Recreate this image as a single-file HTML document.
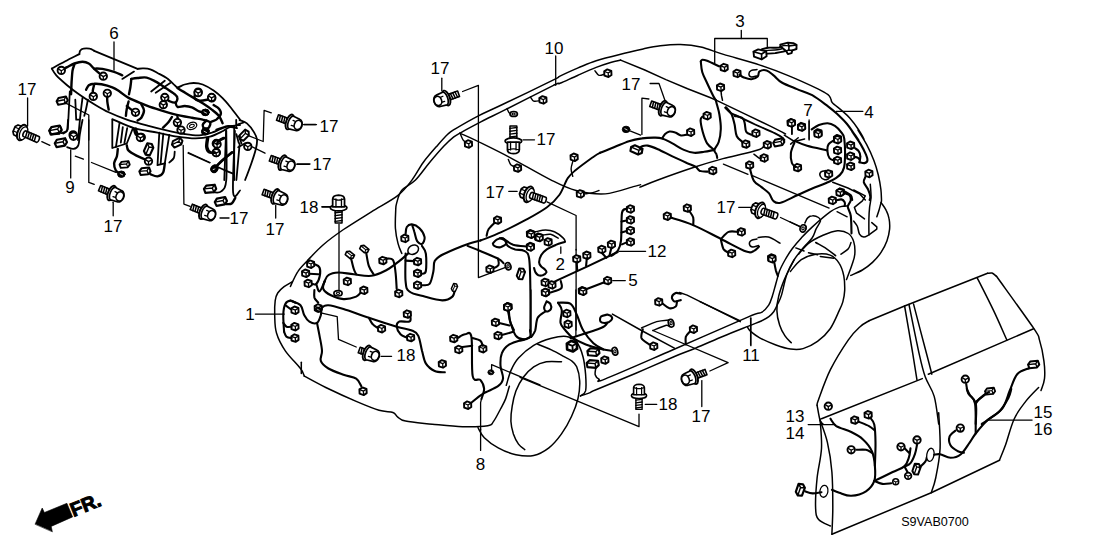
<!DOCTYPE html>
<html lang="en"><head><meta charset="utf-8"><title>Wire Harness Diagram</title>
<style>
html,body{margin:0;padding:0;background:#fff}
body{width:1108px;height:553px;overflow:hidden}
svg{display:block;font-family:"Liberation Sans",sans-serif}
</style></head><body>
<svg width="1108" height="553" viewBox="0 0 1108 553" fill="none" stroke="#000" stroke-width="1.3" stroke-linecap="round" stroke-linejoin="round">
<rect width="1108" height="553" fill="#fff" stroke="none"/>

<defs>
<g id="cn"><path d="M-3.6 -1.9L-0.5 -3.8L3.5 -2.4L3.7 1.8L0.7 3.8L-3.4 2.4Z" fill="#fff" stroke-width="1.9"/><path d="M-3.2 -1.7L0.4 -0.2L3.3 -2.1M0.4 -0.2L0.6 3.5" stroke-width="1.3"/></g>
<g id="rc"><circle r="3.7" fill="#fff" stroke-width="1.9"/><path d="M-2.6 -1.3L0 0.4L2.8 -1.1M0 0.4L0 3.2" stroke-width="1.3"/></g>
<g id="dc"><ellipse rx="3.8" ry="3.2" fill="#000" stroke-width="1"/><path d="M-1.2 -0.6L1.2 0.6" stroke="#fff" stroke-width="0.8"/></g>
<g id="pg"><path d="M-4.8 -1.6L-2 -3.5L4.8 -1.8L4.8 1.9L2 3.7L-4.8 1.9Z" fill="#fff" stroke-width="1.8"/><path d="M-4.6 -1.5L2 0.1L4.6 -1.7M2 0.1L2 3.5" stroke-width="1.2"/></g>
<g id="bt">
<path d="M-13.4 -2.9L-2 -2.9L-2 2.9L-13.4 2.9Z" fill="#fff" stroke-width="1.6"/>
<path d="M-11.4 -2.9L-10.6 2.9M-9 -2.9L-8.2 2.9M-6.6 -2.9L-5.8 2.9M-4.2 -2.9L-3.4 2.9" stroke-width="1.5"/>
<ellipse cx="-0.4" cy="0" rx="3.5" ry="7.8" fill="#fff" stroke-width="1.9"/>
<path d="M1.2 -6.7L8 -6A4.4 6 0 0 1 8 6L1.2 6.7A3 6.7 0 0 1 1.2 -6.7Z" fill="#fff" stroke-width="1.7"/>
<path d="M2.2 -2.6L5.6 -2.4M2.2 2.8L5.6 2.6" stroke-width="1.3"/>
<ellipse cx="8.4" cy="0" rx="3.7" ry="4.7" fill="#fff" stroke-width="1.6"/>
</g>
<g id="bt3">
<path d="M-8.6 -2.9L-2 -2.9L-2 2.9L-8.6 2.9Z" fill="#fff" stroke-width="1.6"/>
<path d="M-6.6 -2.9L-5.8 2.9M-4.2 -2.9L-3.4 2.9" stroke-width="1.5"/>
<ellipse cx="-0.4" cy="0" rx="3.5" ry="7.8" fill="#fff" stroke-width="1.9"/>
<path d="M1.2 -6.7L8 -6A4.4 6 0 0 1 8 6L1.2 6.7A3 6.7 0 0 1 1.2 -6.7Z" fill="#fff" stroke-width="1.7"/>
<path d="M2.2 -2.6L5.6 -2.4M2.2 2.8L5.6 2.6" stroke-width="1.3"/>
<ellipse cx="8.4" cy="0" rx="3.7" ry="4.7" fill="#fff" stroke-width="1.6"/>
</g>
<g id="bt2">
<path d="M1 -5.8L7.8 -5.4L9.8 -2.7L9.8 2.7L7.8 5.4L1 5.8Z" fill="#fff" stroke-width="1.7"/>
<path d="M2 -2L9.4 -2M2 2.2L9.4 2.2" stroke-width="1.2"/>
<ellipse cx="1" cy="0" rx="4.4" ry="8.2" fill="#fff" stroke-width="2"/>
<ellipse cx="-0.6" cy="0" rx="3.6" ry="6.8" fill="#fff" stroke-width="1.3"/>
<path d="M-16 -3.1L-2 -3.1A1.6 3.1 0 0 1 -2 3.1L-16 3.1A1.4 3.1 0 0 1 -16 -3.1Z" fill="#fff" stroke-width="1.6"/>
<path d="M-13.6 -3.1L-12.8 3.1M-11.2 -3.1L-10.4 3.1M-8.8 -3.1L-8 3.1M-6.4 -3.1L-5.6 3.1M-4 -3.1L-3.2 3.1" stroke-width="1.5"/>
</g>
<g id="b18">
<path d="M-3.1 3L-3.1 15.2L3.1 15.2L3.1 3Z" fill="#fff" stroke-width="1.4"/>
<path d="M-3.1 6L3.1 5.2M-3.1 8.6L3.1 7.8M-3.1 11.2L3.1 10.4M-3.1 13.8L3.1 13" stroke-width="1.3"/>
<ellipse cx="0" cy="1.5" rx="7.6" ry="2.8" fill="#fff" stroke-width="1.6"/>
<path d="M-5.4 0.6L-5.4 -6.6Q-5.2 -9.8 0 -10Q5.2 -9.8 5.4 -6.6L5.4 0.6Z" fill="#fff" stroke-width="1.6"/>
<path d="M-2.4 0.5L-2.4 -6.6M2.6 0.5L2.6 -6.6M-5.2 -6.6Q0 -4.6 5.2 -6.6" stroke-width="1.2"/>
</g>
</defs>
<text x="114" y="39.1" font-size="17" text-anchor="middle" fill="#000" stroke="none">6</text>
<path d="M114 42L114 70"/>
<text x="27" y="95.1" font-size="17" text-anchor="middle" fill="#000" stroke="none">17</text>
<text x="329" y="131.6" font-size="17" text-anchor="middle" fill="#000" stroke="none">17</text>
<path d="M303.5 124.6L316.5 124.6"/>
<text x="322" y="170.1" font-size="17" text-anchor="middle" fill="#000" stroke="none">17</text>
<path d="M297 164L310 164"/>
<text x="70" y="193.1" font-size="17" text-anchor="middle" fill="#000" stroke="none">9</text>
<text x="113" y="232.1" font-size="17" text-anchor="middle" fill="#000" stroke="none">17</text>
<text x="239" y="224.1" font-size="17" text-anchor="middle" fill="#000" stroke="none">17</text>
<path d="M220 218L229 218"/>
<text x="275" y="235.1" font-size="17" text-anchor="middle" fill="#000" stroke="none">17</text>
<text x="309" y="213.1" font-size="17" text-anchor="middle" fill="#000" stroke="none">18</text>
<path d="M322 207L330 207"/>
<text x="440" y="74.1" font-size="17" text-anchor="middle" fill="#000" stroke="none">17</text>
<text x="554" y="54.1" font-size="17" text-anchor="middle" fill="#000" stroke="none">10</text>
<text x="546" y="145.1" font-size="17" text-anchor="middle" fill="#000" stroke="none">17</text>
<text x="740" y="27.1" font-size="17" text-anchor="middle" fill="#000" stroke="none">3</text>
<text x="631" y="90.1" font-size="17" text-anchor="middle" fill="#000" stroke="none">17</text>
<text x="808" y="116.1" font-size="17" text-anchor="middle" fill="#000" stroke="none">7</text>
<text x="869" y="118.1" font-size="17" text-anchor="middle" fill="#000" stroke="none">4</text>
<text x="495" y="198.1" font-size="17" text-anchor="middle" fill="#000" stroke="none">17</text>
<text x="560.3" y="270.1" font-size="17" text-anchor="middle" fill="#000" stroke="none">2</text>
<text x="250" y="320.1" font-size="17" text-anchor="middle" fill="#000" stroke="none">1</text>
<text x="406" y="361.4" font-size="17" text-anchor="middle" fill="#000" stroke="none">18</text>
<text x="726" y="213.1" font-size="17" text-anchor="middle" fill="#000" stroke="none">17</text>
<text x="657" y="257.1" font-size="17" text-anchor="middle" fill="#000" stroke="none">12</text>
<text x="633" y="286.1" font-size="17" text-anchor="middle" fill="#000" stroke="none">5</text>
<text x="751" y="361.1" font-size="17" text-anchor="middle" fill="#000" stroke="none">11</text>
<text x="480.4" y="469.9" font-size="17" text-anchor="middle" fill="#000" stroke="none">8</text>
<text x="668" y="410.1" font-size="17" text-anchor="middle" fill="#000" stroke="none">18</text>
<text x="701" y="422.1" font-size="17" text-anchor="middle" fill="#000" stroke="none">17</text>
<text x="795" y="422.1" font-size="17" text-anchor="middle" fill="#000" stroke="none">13</text>
<text x="795" y="439.1" font-size="17" text-anchor="middle" fill="#000" stroke="none">14</text>
<text x="1043" y="418.1" font-size="17" text-anchor="middle" fill="#000" stroke="none">15</text>
<text x="1043" y="435.1" font-size="17" text-anchor="middle" fill="#000" stroke="none">16</text>
<text x="935" y="525.5" font-size="12.6" text-anchor="middle" fill="#000" stroke="none">S9VAB0700</text>
<path d="M35.2 523.9L42.2 508L44.4 512.5L66.9 503.3L72.6 516.9L51.2 526.4L52.3 531.5Z" fill="#000" stroke="#000" stroke-width="0.6"/>
<text transform="translate(73.4 516.9) rotate(-22)" font-size="19.5" font-weight="bold" fill="#000" stroke="#000" stroke-width="1" stroke-linejoin="miter">FR.</text>
<use href="#bt2" transform="translate(23 133) rotate(203.6) scale(1)"/>
<path d="M27.6 98L27.6 126"/>
<path d="M555.7 56L555.7 85.3"/>
<path d="M51.8 68.6C54 67.4 60.7 63.7 65.3 61.3C69.9 58.9 77.1 55.3 79.4 54.1" stroke-width="1.8"/>
<path d="M79.4 54.1C79.5 53.6 79.5 51.8 80.1 50.8C80.8 49.9 81.8 49 83.4 48.7C85 48.3 87.9 48.3 89.7 48.7C91.5 49 93.5 50.5 94.2 50.8" stroke-width="1.8"/>
<path d="M94.2 50.8L137.6 68.9" stroke-width="1.8"/>
<path d="M137.6 68.9C138.6 68.8 141 68.3 143.1 68.4C145.2 68.5 147.7 68.5 150.3 69.3C152.9 70.1 155.7 72 158.4 73.5C161.2 74.9 163.9 76 166.6 78C169.3 79.9 172.9 83.6 174.7 85.2C176.6 86.8 176.1 87.5 177.8 87.4C179.5 87.3 182 85.2 184.7 84.5C187.3 83.8 190.7 83 193.7 83C196.7 83 199.4 83.2 202.7 84.5C206.1 85.8 210.3 88.3 213.6 90.6C216.9 92.9 219.6 95.2 222.6 98.2C225.7 101.2 228.8 105.2 231.7 108.7C234.6 112.3 238.6 117.8 240 119.6" stroke-width="1.8"/>
<path d="M51.8 68.6C52.5 69.7 53.7 72.5 56.3 75.3C58.8 78 63.4 82 67.1 85.2C70.9 88.4 74.4 91.1 78.9 94.2C83.4 97.4 89.3 101.2 94.2 104.2C99.2 107.2 103.3 109.8 108.7 112.3C114.1 114.9 120.2 117.3 126.8 119.6C133.4 121.8 141.9 124.1 148.5 125.9C155.1 127.7 160.6 129.1 166.6 130.4C172.6 131.8 179.2 133.2 184.7 134C190.1 134.8 194.6 135.5 199.1 135.3C203.7 135.1 208.2 133.6 211.8 132.6C215.4 131.5 218.1 130 220.8 129C223.5 127.9 224.9 127.1 228.1 126.4C231.3 125.8 238 125.2 240 125" stroke-width="1.8"/>
<path d="M122.3 78.9L134 71.6" stroke-width="1.8"/>
<path d="M151.2 91.5L164.8 80.7" stroke-width="1.8"/>
<path d="M155.7 92.8L170.2 83" stroke-width="1.8"/>
<path d="M61.3 70.4C62.3 69.8 65 68.3 67.1 67.1C69.3 66 71.8 64.4 74.4 63.5C76.9 62.6 80.1 61.7 82.5 61.7C84.9 61.7 86.9 62.3 88.8 63.5C90.8 64.7 92.3 67.1 94.2 68.9C96.2 70.7 99.5 73.5 100.6 74.4" stroke-width="2.4"/>
<path d="M94.2 68.6C95.6 68.6 99.1 68.4 102.4 68.9C105.7 69.5 110.8 70.8 114.1 71.8C117.5 72.9 120.9 74.7 122.3 75.3" stroke-width="2.4"/>
<path d="M74.4 64.4C74.1 65.5 73 67.9 72.5 70.7C72.1 73.6 71.9 77.7 71.6 81.6C71.4 85.5 71.2 92.1 71.1 94.2" stroke-width="2.4"/>
<path d="M86.1 89.7C86.6 89 87.5 86.2 88.8 85.2C90.2 84.2 92.1 83.9 94.2 83.8C96.4 83.6 98.5 83.7 101.5 84.3C104.5 84.9 109.3 86.2 112.3 87.4C115.3 88.6 116.9 89.8 119.6 91.5C122.3 93.3 125 95.9 128.6 97.9C132.2 99.8 136.7 101.5 141.3 103.3C145.8 105.1 150.3 106.9 155.7 108.7C161.2 110.5 167.8 112.6 173.8 114.1C179.8 115.6 187.1 116.9 191.9 117.8C196.7 118.7 199.7 118.8 202.7 119.6C205.8 120.3 208.9 121 210 122.3C211 123.5 209.9 125.8 209.1 127.2C208.2 128.5 205.6 129.9 204.9 130.4" stroke-width="2.4"/>
<path d="M131.3 78.9C132.4 78.7 135.1 78.2 137.6 78C140.2 77.8 143.7 77 146.7 77.6C149.7 78.2 152.7 80 155.7 81.6C158.7 83.2 163.3 86.4 164.8 87.4" stroke-width="2.4"/>
<path d="M164.8 87.4C166.4 88.5 172.6 92.5 174.7 94.2C176.8 96 177.3 96.5 177.4 97.9C177.6 99.2 176.8 101.8 175.6 102.4C174.4 103 171.9 102.2 170.2 101.5C168.5 100.8 166.4 98.8 165.7 98.2" stroke-width="2.4"/>
<path d="M131.3 78.9C131.2 80.2 130.8 84.5 130.4 87C130 89.6 129.2 93 129 94.2" stroke-width="2.4"/>
<path d="M175.6 102.4C175.9 103.1 175.9 106.3 177.4 106.9C178.9 107.5 182.3 105.9 184.7 106C187.1 106.1 189.5 106.4 191.9 107.3C194.3 108.2 197 110.6 199.1 111.4C201.3 112.3 204 112.2 204.9 112.3" stroke-width="2.4"/>
<path d="M94.2 84.3C94 85.4 93 88.8 92.8 90.6C92.7 92.4 93.3 94.4 93.3 95.2" stroke-width="2.4"/>
<path d="M107.3 94.2C107.3 95.5 107 98.9 107.3 101.5C107.5 104 108.5 108.3 108.7 109.6" stroke-width="2.4"/>
<path d="M128.6 101.5C128.3 102.7 127.3 106.3 126.8 108.7C126.3 111.1 126 114.7 125.9 115.9" stroke-width="2.4"/>
<path d="M126.8 106C127.6 106.6 130 108.6 131.3 109.6C132.7 110.6 134.3 111.6 134.9 112" stroke-width="2.4"/>
<path d="M141.3 104.2C141.7 105.3 144 108.3 144 110.5C144 112.8 142.3 116.1 141.3 117.8C140.2 119.4 138.3 120 137.6 120.5" stroke-width="2.4"/>
<path d="M172 116.9C171.4 117.8 169.9 120.5 168.4 122.3C166.9 124.1 163.9 126.8 163 127.7" stroke-width="2.4"/>
<path d="M177.4 116.9C177.6 117.5 178.3 119.5 178.3 120.5C178.3 121.4 177.6 122.3 177.4 122.6" stroke-width="2.4"/>
<path d="M195.5 92.4C195.4 93.3 194 96.5 194.6 97.9C195.2 99.2 197 100.3 199.1 100.6C201.2 100.9 205.2 100.1 207.3 99.7C209.3 99.3 210.7 98.5 211.4 98.2" stroke-width="2.4"/>
<path d="M177.4 87.9C178.6 88.7 182 90.8 184.7 92.4C187.4 94.1 190.7 96.1 193.7 97.9C196.7 99.7 199.7 101.3 202.7 103.3C205.8 105.3 209.1 107.5 211.8 109.6C214.5 111.7 217.2 113.7 219 115.9C220.8 118.2 222 122 222.6 123.2" stroke-width="2.4"/>
<path d="M210 122.3C211 121.8 214.5 120.9 216.3 119.6C218.1 118.2 220.4 115.9 220.8 114.1C221.3 112.3 220.2 110.2 219 108.7C217.8 107.2 214.5 105.7 213.6 105.1" stroke-width="2.4"/>
<path d="M204.9 130.4C204.6 129.5 202.5 126.6 202.7 125C203 123.3 205.8 121.2 206.4 120.5" stroke-width="2.4"/>
<use href="#rc" transform="translate(61.3 70.4) rotate(0) scale(1)"/>
<use href="#rc" transform="translate(103.3 76.2) rotate(0) scale(1)"/>
<use href="#rc" transform="translate(93.3 96.4) rotate(0) scale(1)"/>
<use href="#rc" transform="translate(107.3 93.3) rotate(0) scale(1)"/>
<use href="#rc" transform="translate(135.5 112.3) rotate(0) scale(1)"/>
<use href="#rc" transform="translate(164.8 97.5) rotate(0) scale(1)"/>
<use href="#rc" transform="translate(163.3 104.7) rotate(0) scale(1)"/>
<use href="#rc" transform="translate(198.2 92.1) rotate(0) scale(1)"/>
<use href="#rc" transform="translate(211.8 97.9) rotate(0) scale(1)"/>
<use href="#rc" transform="translate(177.4 122.6) rotate(0) scale(1)"/>
<use href="#rc" transform="translate(181 130.1) rotate(0) scale(1)"/>
<use href="#dc" transform="translate(205.5 112.3) rotate(0) scale(1)"/>
<use href="#dc" transform="translate(205.5 130.8) rotate(0) scale(1)"/>
<ellipse cx="191.9" cy="125.9" rx="5" ry="3.4" transform="rotate(-20 191.9 125.9)" stroke-width="1.3" fill="#fff"/>
<ellipse cx="191.9" cy="125.9" rx="2.5" ry="1.5" transform="rotate(-20 191.9 125.9)" stroke-width="1" fill="none"/>
<use href="#pg" transform="translate(62.1 100.6) rotate(-25) scale(1.1)"/>
<use href="#pg" transform="translate(55.4 130.4) rotate(-20) scale(1.2)"/>
<use href="#rc" transform="translate(73.1 134.9) rotate(0) scale(1)"/>
<path d="M69.8 91.5C69.7 94.4 69.2 103.1 68.9 108.7C68.6 114.3 68.3 121.4 68 125C67.7 128.6 68.2 129.1 67.1 130.4C66.1 131.8 62.6 132.7 61.7 133.1" stroke-width="1.8"/>
<path d="M82.5 97.9C82.2 100.3 81.3 106.9 80.7 112.3C80.1 117.8 79.3 125.8 78.9 130.4C78.4 135 78.1 138.4 78 140" stroke-width="1.8"/>
<path d="M75.3 99.7L76.2 119.6L78.9 119.6" stroke-width="1.8"/>
<path d="M87.9 99.7C87.6 101.2 86.7 106 86.1 108.7C85.5 111.4 84.6 114.7 84.3 115.9" stroke-width="1.8"/>
<path d="M64.4 102.4L88.8 115L88.8 140"/>
<path d="M135.8 128.6C136.1 129.5 136.7 132.7 137.6 134C138.6 135.4 140.7 136.3 141.3 136.7" stroke-width="2.4"/>
<use href="#rc" transform="translate(141.3 137.3) rotate(0) scale(1)"/>
<path d="M70.7 149.8L70.7 177.9"/>
<path d="M88.8 120L88.8 182.4L94.2 184.4"/>
<use href="#bt" transform="translate(112 193.2) rotate(22) scale(1)"/>
<path d="M113.2 202.3L113.2 215.8"/>
<path d="M41.8 141.7L49.9 145.3"/>
<path d="M75.3 156.2L83.4 159.2"/>
<path d="M91.5 162.5L115.9 172.4"/>
<path d="M68 120C67.9 121.2 67.7 125.4 67.5 127.2C67.3 129.1 67.5 130.2 66.8 131.2C66 132.3 63.7 133.2 63.1 133.6" stroke-width="1.8"/>
<path d="M82.5 120C82 122.4 80.5 130.2 79.8 134.5C79.1 138.7 79.4 142.9 78.3 145.3C77.3 147.7 75.3 148.6 73.5 148.9C71.6 149.2 68.2 147.4 67.1 147.1" stroke-width="1.8"/>
<use href="#pg" transform="translate(55.4 129.9) rotate(-25) scale(1.2)"/>
<use href="#pg" transform="translate(60.8 142.6) rotate(-25) scale(1.2)"/>
<use href="#rc" transform="translate(73.5 136.3) rotate(0) scale(1)"/>
<path d="M112.3 120L112.3 148L126.8 143.5L132.6 129" stroke-width="1.8"/>
<path d="M119.6 122.7L115.9 147.1" stroke-width="1.8"/>
<path d="M122.8 127.2L120.8 142.6" stroke-width="1.8"/>
<path d="M127.2 128.1L124.4 143.1" stroke-width="1.8"/>
<path d="M112.3 119.1C115.9 120.6 126.5 125.9 134 128.1C141.6 130.4 150.3 131.2 157.5 132.7C164.8 134.1 171.1 135.7 177.4 136.6C183.8 137.6 190.1 138.4 195.5 138.4C200.9 138.4 205.5 137.8 210 136.6C214.5 135.4 219.3 132.8 222.6 131.2C226 129.6 227.5 127.7 229.9 127.2C232.3 126.7 235.9 128 237.1 128.1" stroke-width="1.8"/>
<path d="M159.3 132.7L157.5 165.2L164.8 163.4L169.3 134.8" stroke-width="1.8"/>
<path d="M163.3 133.6L160.6 163.8" stroke-width="1.8"/>
<path d="M117.8 148.9C117.6 150.1 117.5 153.8 116.9 156.2C116.3 158.6 114.3 161 114.1 163.4C114 165.8 114.9 168.9 115.9 170.6C117 172.4 119.7 173.2 120.5 173.7" stroke-width="2.4"/>
<path d="M126.8 145.3C127.1 146.2 126.8 148.9 128.6 150.7C130.4 152.5 134.6 154.6 137.6 156.2C140.7 157.7 145.2 159.5 146.7 160.1" stroke-width="2.4"/>
<path d="M134 129C134.3 129.9 134.8 133.1 135.8 134.5C136.9 135.8 139.6 136.7 140.4 137.2" stroke-width="2.4"/>
<path d="M150.3 174.2C151.5 174.6 155.4 176.7 157.5 176.4C159.7 176.2 161.8 175 163 172.8C164.2 170.6 164.5 165 164.8 163.4" stroke-width="2.4"/>
<path d="M174.7 151.6C174.6 152.7 174.7 156.2 173.8 158C172.9 159.8 170 161.7 169.3 162.5" stroke-width="1.8"/>
<use href="#rc" transform="translate(140.4 137.5) rotate(0) scale(1)"/>
<use href="#pg" transform="translate(148.5 149.3) rotate(-80) scale(1.2)"/>
<use href="#rc" transform="translate(148.5 161.2) rotate(0) scale(1)"/>
<use href="#pg" transform="translate(144.9 171.2) rotate(-20) scale(1.1)"/>
<use href="#pg" transform="translate(124.6 164.5) rotate(-20) scale(1)"/>
<use href="#dc" transform="translate(121.4 174.2) rotate(0) scale(1)"/>
<use href="#pg" transform="translate(177.1 142.6) rotate(-40) scale(1.1)"/>
<path d="M183.2 145.3L183.9 204.1L190.1 206.4"/>
<use href="#bt" transform="translate(203.7 211.9) rotate(22) scale(1)"/>
<path d="M188.3 152.5L210 162.5"/>
<path d="M226.3 130.8C226.3 139 227.1 169.6 226.3 179.7C225.4 189.8 223.3 189.3 221.2 191.4C219.1 193.5 214.9 192.2 213.6 192.3" stroke-width="1.8"/>
<path d="M234.9 130.8C234.6 141.1 232.3 182.4 233.1 192.3C234 202.3 238.9 190.8 240 190.5" stroke-width="1.8"/>
<path d="M208.2 138.1C208 139.6 206.8 144.7 207.3 147.1C207.7 149.5 209.4 151.6 210.9 152.5C212.4 153.5 215.4 152.5 216.3 152.5" stroke-width="2.4"/>
<path d="M224.4 138.1C223.5 138.5 220.4 139.9 219 140.8C217.7 141.7 216.8 143.1 216.3 143.5" stroke-width="2.4"/>
<path d="M231.7 152.5C229.9 154.1 223.7 159 220.8 161.6C218 164.2 215.6 166.9 214.5 167.9" stroke-width="2.4"/>
<use href="#rc" transform="translate(216.3 143.5) rotate(0) scale(1)"/>
<use href="#rc" transform="translate(216.3 152.5) rotate(0) scale(1)"/>
<use href="#dc" transform="translate(214.5 168.5) rotate(-50) scale(1)"/>
<use href="#pg" transform="translate(210 188.7) rotate(-20) scale(1.2)"/>
<use href="#pg" transform="translate(220.8 201.4) rotate(-25) scale(1.2)"/>
<path d="M226.3 204.1C227.2 204 230.2 204.6 231.7 203.5C233.2 202.5 234.7 198.7 235.3 197.8" stroke-width="2.4"/>
<path d="M236.2 120L236.2 127.2" stroke-width="1.8"/>
<path d="M239.7 120.1C240.9 120.7 244.5 121.4 246.9 123.4C249.3 125.4 252.5 129.7 254.1 132.4C255.8 135.2 256.7 137 257 139.7C257.3 142.4 256.9 144.8 255.9 148.7C255 152.6 253.2 158 251.4 163.2C249.6 168.4 246.2 177.2 245.1 180" stroke-width="1.8"/>
<path d="M237.9 124.3L243.7 122.5" stroke-width="1.8"/>
<path d="M226.1 130.6L224.3 180" stroke-width="1.8"/>
<path d="M234.2 126.7L234.2 180" stroke-width="1.8"/>
<path d="M239.7 143.3L236.4 180" stroke-width="1.8"/>
<path d="M236.4 134.2L238.8 142.9" stroke-width="1.8"/>
<path d="M238.8 136.1L241.5 143.3" stroke-width="1.8"/>
<path d="M238.2 147.3L245.1 143.3" stroke-width="1.8"/>
<path d="M216.2 129.7C218 129.1 224 126.6 227 126.1C230 125.6 233 126.6 234.2 126.7" stroke-width="1.8"/>
<use href="#bt" transform="translate(290.1 122.1) rotate(20) scale(1)"/>
<path d="M304.1 124.5L315.6 124.5"/>
<use href="#bt" transform="translate(282.9 162.8) rotate(20) scale(1)"/>
<path d="M296.8 164.3L309.3 164.3"/>
<path d="M249.6 136.1L263.2 141.5L264.1 110.4L271.3 112.9"/>
<path d="M252.3 146.9L265 153.2"/>
<use href="#rc" transform="translate(198.1 92.7) rotate(0) scale(1)"/>
<use href="#rc" transform="translate(211.6 97.5) rotate(0) scale(1)"/>
<use href="#dc" transform="translate(205.3 112.5) rotate(0) scale(1)"/>
<use href="#dc" transform="translate(205.3 131.9) rotate(0) scale(1)"/>
<use href="#rc" transform="translate(217.1 144.2) rotate(0) scale(1)"/>
<use href="#rc" transform="translate(216.2 152.7) rotate(0) scale(1)"/>
<use href="#pg" transform="translate(244.2 135.2) rotate(-60) scale(1.1)"/>
<use href="#rc" transform="translate(247.8 146.4) rotate(0) scale(1)"/>
<use href="#dc" transform="translate(214.4 169) rotate(-50) scale(1)"/>
<path d="M207.1 137.9C207 139.4 205.9 144.5 206.2 146.9C206.5 149.3 207.4 151.4 208.9 152.3C210.4 153.3 214.2 152.6 215.3 152.7" stroke-width="2.4"/>
<path d="M223.4 137.9C222.6 138.3 219.9 139.6 218.9 140.6C217.8 141.5 217.4 143.1 217.1 143.7" stroke-width="2.4"/>
<path d="M232.4 152.3C230.9 153.5 226.3 157 223.4 159.6C220.5 162.1 216.6 166.3 215.3 167.7" stroke-width="2.4"/>
<path d="M188.1 153.2L209.8 162.8"/>
<path d="M217.1 166.8C218.4 167.4 222.3 169.2 225.2 170.4C228.1 171.6 232.7 173.4 234.2 174" stroke-width="1.8"/>
<path d="M308.1 259.9C310.6 257.3 317.4 249.7 323.3 244.7C329.2 239.6 335.5 235 343.5 229.5C351.6 224 362.3 217.5 371.4 211.8C380.5 206.1 391.2 200.6 398 195.3C404.7 190 407.7 185.6 411.9 180.1C416.1 174.6 419.1 168.1 423.4 162.2C427.7 156.4 433.8 149.6 437.9 144.9C442 140.2 445.1 136.7 448 134C450.9 131.4 450.2 132 455.3 128.9C460.3 125.9 470.4 120 478.4 115.9C486.4 111.8 490.5 110.3 503 104.3C515.5 98.3 544 84.6 553.5 79.9C563 75.2 555.9 78.1 560 76.1C564.1 74.1 572.1 70.5 578.1 67.9C584.1 65.4 589.2 62.9 596.2 60.7C603.1 58.4 611.8 56.3 619.7 54.4C627.5 52.4 636.4 50.4 643.2 48.9C649.9 47.5 654 46.6 660.3 45.8C666.5 45.1 673.8 44.3 680.5 44.6C687.3 44.8 693.6 45.4 700.8 47.1C707.9 48.7 713.7 51.4 723.5 54.4C733.4 57.4 749.1 61.5 760 65.1C770.9 68.6 779.3 71.9 788.9 75.9C798.6 79.9 811.4 85.8 817.9 88.9C824.4 92.1 825.8 93 828 94.7C830.2 96.4 830.2 97.7 830.9 99.1C831.6 100.4 830.7 100.9 832.4 102.7C834 104.5 838.1 107.4 841 109.9C843.9 112.5 846.8 114.6 849.7 117.9C852.6 121.1 856 125.8 858.4 129.5C860.8 133.2 864.3 139.9 864.2 140C864.1 140.1 857.6 129.4 858 130.1C858.4 130.9 864 139.5 866.7 144.6C869.4 149.7 872 155.5 873.9 160.5C875.9 165.6 877.1 170.2 878.3 175C879.4 179.8 880.4 185.3 880.9 189.5C881.4 193.6 881.4 197.9 881.5 200C881.5 202.2 881.2 201.9 881.2 202.3" stroke-width="1.5"/>
<path d="M401.8 253.5C401.1 251.9 399 247.6 398 243.4C396.9 239.2 395.8 233.7 395.4 228.2C395.1 222.7 395.5 214.7 395.7 210.5C395.9 206.3 395.7 206.3 396.7 202.9C397.7 199.5 398.6 194.1 401.8 190.3C404.9 186.4 410.9 184.6 415.5 180C420 175.5 424.5 168.6 429.2 163C433.9 157.3 439.6 150.7 443.7 146.3C447.8 142 450.9 139.2 453.8 136.9C456.7 134.6 456.5 135.1 461 132.6C465.6 130 473.8 125.6 481.3 121.7C488.8 117.8 493.9 115.5 505.9 109.4C517.9 103.3 544.5 89.7 553.5 85.3C562.6 81 555.9 85 560 83.3C564.1 81.6 572.1 77.8 578.1 75.2C584.1 72.5 590.7 69.5 596.2 67.4C601.6 65.3 606.6 63.7 610.6 62.5C614.7 61.3 618.9 60.5 620.6 60.1" stroke-width="1.5"/>
<path d="M620.6 60.1L644.2 69.8L665.9 79.6L687.6 88.8L710 97.5L717.1 100.6L744.2 113.6L771.3 126.6L782.2 132.1L785.5 134" stroke-width="1.5"/>
<use href="#b18" transform="translate(513.4 142.7) rotate(180) scale(1.1)"/>
<path d="M523 139.8L534.5 139.8"/>
<path d="M459.7 133.1C462.4 134.4 468 136.6 476.3 140.6C484.6 144.7 497.1 150.7 509.6 157.3C522.1 163.9 540.1 174.6 551.2 180.1C562.3 185.7 567.1 188.3 576.1 190.5C585.2 192.8 595.6 194.6 605.3 193.9C615 193.2 628.5 187.9 634.4 186.4C640.3 184.9 639.6 185 640.6 184.7" stroke-width="1.4"/>
<path d="M480.5 240.5C483.9 239.1 493.6 235.6 501.3 232.1C508.9 228.7 518.6 223.8 526.2 219.7C533.8 215.5 541.5 211.3 547 207.2C552.6 203 556 199.6 559.5 194.7C563 189.9 565 182.2 567.8 178.1C570.6 173.9 571.8 173.4 576.1 169.8C580.5 166.1 590 159.3 594 156.4C598 153.6 599.2 153.3 600.3 152.7" stroke-width="1.9"/>
<path d="M441.8 78.2L441.8 90.7"/>
<use href="#bt" transform="translate(445.9 98.2) rotate(161) scale(1)"/>
<path d="M462.6 91.5L478.4 85.3L478.4 250"/>
<ellipse cx="513.7" cy="114" rx="3.7" ry="2.5" transform="rotate(0 513.7 114)" stroke-width="1.7" fill="#fff"/>
<ellipse cx="513.7" cy="114" rx="1.5" ry="1" transform="rotate(0 513.7 114)" stroke-width="1.1" fill="none"/>
<path d="M507.1 108.6C507.4 109.2 508.1 111.4 508.8 112.3C509.4 113.2 510.5 113.7 510.8 114" stroke-width="1.4"/>
<path d="M460.5 134.4C460.9 135.3 462 138.4 463 139.8C464 141.2 466.1 142.2 466.7 142.7" stroke-width="1.4"/>
<use href="#cn" x="468.4" y="144"/>
<path d="M508.3 159.4C508.8 160.3 509.7 163.4 510.8 164.8C512 166.1 514.6 166.8 515.4 167.3" stroke-width="1.4"/>
<use href="#cn" x="517.5" y="168.1"/>
<path d="M530.4 97C530.9 97.6 532.2 100.5 533.7 101.1C535.2 101.7 538.6 100.8 539.5 100.7" stroke-width="1.4"/>
<use href="#cn" x="542.9" y="99.9"/>
<path d="M594.9 70.7C595.6 71.5 597.4 74.8 599 75.3C600.6 75.9 603.5 74.3 604.4 74.1" stroke-width="1.4"/>
<use href="#cn" x="607.8" y="73.2"/>
<use href="#cn" x="574.1" y="157.3"/>
<path d="M572.8 161.4C572.5 162.7 571.1 166.4 571.1 168.9C571.1 171.4 572.5 175.2 572.8 176.4" stroke-width="1.4"/>
<use href="#cn" x="580.3" y="193.9"/>
<path d="M584.5 193.9C585.8 193.7 590.4 193.2 592.8 192.6C595.2 192.1 598 190.9 599 190.5" stroke-width="1.4"/>
<path d="M648.9 99L641.9 98.2L641.9 134.4"/>
<use href="#dc" transform="translate(626.1 129.4) rotate(0) scale(1)"/>
<path d="M628.1 130.2L640.6 135.2"/>
<use href="#pg" transform="translate(636.5 149.8) rotate(10) scale(1.2)"/>
<path d="M508.8 191.4L517.1 191.4"/>
<use href="#bt2" transform="translate(529.6 194.7) rotate(200) scale(1)"/>
<path d="M547 201.8L576.1 215.5L576.1 250"/>
<path d="M741.3 30.4L741.3 38.5"/>
<path d="M714.7 63.3L714.7 38.5L767.3 38.5L767.3 46.8"/>
<path d="M761.6 49.4C762.7 49.2 765.1 48 768 47.7C770.8 47.4 776.6 48 778.8 47.6C781.1 47.3 780.6 46 781.5 45.6C782.4 45.1 783.8 45 784.2 44.9" stroke-width="1.9"/>
<path d="M766.2 53.7C767.7 53.6 772.3 53.4 775.2 53.1C778.1 52.7 781.2 52.3 783.3 51.7C785.5 51.1 787.1 49.8 787.9 49.4" stroke-width="1.9"/>
<path d="M764.8 50.6C767.1 50.4 775.6 50 778.8 49.5C782.1 49 783.3 48 784.2 47.7" stroke-width="1.4"/>
<path d="M753.5 51.7L758.2 49.4L766.2 51.2L766.6 56.2L761.6 59.4L754 56.7Z" stroke-width="1.9" fill="#fff"/>
<path d="M753.5 51.7L761.6 54L766.2 51.2" stroke-width="1.6"/>
<path d="M761.6 54L761.6 59.4" stroke-width="1.6"/>
<path d="M780.2 44.6L787.9 42.7L793.3 43.1L796.5 44.9L796.5 49L792.4 50.4L791.5 53.1L787.9 54.1L786.1 51L780.6 46.5Z" stroke-width="1.9" fill="#fff"/>
<path d="M787.9 42.7L789 45.9L796.5 45" stroke-width="1.6"/>
<path d="M789 45.9L788.8 50.1L792.4 50.4" stroke-width="1.6"/>
<path d="M786.1 51L788.8 50.1" stroke-width="1.6"/>
<path d="M780.6 46.5L784.2 45.4L789 45.9" stroke-width="1.4"/>
<path d="M700.8 61.5C701 61.2 701.2 59.9 702.3 59.7C703.3 59.6 704.3 59.7 707.1 60.8C709.9 61.9 717 65.4 719 66.3" stroke-width="2.1"/>
<path d="M700.8 61.5C701 63.3 701.2 68.5 702.3 72.2C703.4 75.8 705.5 79.5 707.3 83.5C709.2 87.6 712 93.5 713.4 96.2C714.8 98.9 715.3 99.4 715.7 100" stroke-width="2.1"/>
<use href="#cn" x="724.1" y="67.6"/>
<use href="#cn" x="737" y="73.4"/>
<use href="#cn" x="720.5" y="87.3"/>
<path d="M721 90.6C721.1 91.5 721.3 94.1 721.5 95.7C721.8 97.3 722.4 99.5 722.5 100.3" stroke-width="1.5"/>
<path d="M757 69.6C756 69.7 752.7 69.7 751.4 70.4C750 71.1 748.9 72.8 748.9 73.9C748.9 75 750.1 76.6 751.4 77C752.7 77.3 755.6 76.1 756.5 75.9" stroke-width="1.5"/>
<path d="M836.2 111.4L862.8 111.4"/>
<path d="M809.1 121.5L809.1 140"/>
<path d="M650.1 83.5L659 83.5L664.8 100"/>
<use href="#bt" transform="translate(663.3 108.4) rotate(20) scale(1)"/>
<use href="#cn" x="707.1" y="115.7"/>
<use href="#cn" x="791.1" y="122.8"/>
<path d="M791.9 126.1 L791.9 134.2" stroke-width="1.5"/>
<use href="#cn" x="801.5" y="126.6"/>
<use href="#cn" x="818" y="132.9"/>
<use href="#cn" x="837.5" y="138.7"/>
<use href="#cn" x="837.5" y="139.7"/>
<use href="#cn" x="837.5" y="150.4"/>
<use href="#cn" x="837.5" y="160.5"/>
<use href="#cn" x="850.6" y="145.3"/>
<use href="#cn" x="850.6" y="156.2"/>
<use href="#cn" x="850.6" y="166.3"/>
<path d="M794.4 140.8C796.5 141.6 801.6 144.2 807.1 145.8C812.6 147.4 824 149.6 827.3 150.4" stroke-width="2.1"/>
<path d="M833.9 140.3C833 140.9 829.7 142.4 828.6 144.1C827.5 145.7 827.2 148.1 827.3 150.4C827.5 152.7 828.2 156.3 829.4 158C830.5 159.7 833.6 160.1 834.4 160.5" stroke-width="2.1"/>
<use href="#cn" x="791.4" y="123"/>
<use href="#cn" x="801.5" y="127.1"/>
<use href="#cn" x="818" y="133.9"/>
<use href="#cn" x="755.9" y="133.2"/>
<use href="#cn" x="745.8" y="144.1"/>
<use href="#cn" x="767.3" y="144.8"/>
<use href="#pg" transform="translate(778.7 142.3) rotate(-25) scale(1.1)"/>
<use href="#cn" x="764.1" y="158"/>
<use href="#cn" x="749.6" y="165.1"/>
<use href="#cn" x="712.7" y="170.6"/>
<use href="#cn" x="690.6" y="132.2"/>
<use href="#cn" x="797.5" y="167.6"/>
<use href="#cn" x="828.6" y="173.9"/>
<path d="M826.1 170.6C825.2 170.8 822 171 821 171.9C820 172.8 819.6 174.9 820.3 176.2C820.9 177.5 823.4 179.3 824.8 179.7C826.2 180.2 828 178.9 828.6 178.7" stroke-width="1.5"/>
<path d="M809.1 120L809.1 139"/>
<path d="M784.3 135.2L794.4 141.5L804.6 139" stroke-width="1.5"/>
<path d="M790.6 144.1L798.2 137.7" stroke-width="1.5"/>
<path d="M794.4 142.8C793.8 144.5 791.3 149.5 790.9 152.9C790.5 156.3 791.1 160.7 791.9 163C792.7 165.4 795.1 166.4 795.7 167.1" stroke-width="2.1"/>
<path d="M791.9 126.3 L791.9 133.9" stroke-width="1.5"/>
<path d="M753.9 154.2C754.8 154.8 757.7 157.3 759 158C760.3 158.6 761.1 158 761.5 158" stroke-width="1.5"/>
<path d="M738.7 207.3L752.7 207.3"/>
<use href="#bt2" transform="translate(761 210.6) rotate(199.6) scale(1)"/>
<path d="M780.5 217.5L802 227.6"/>
<ellipse cx="803.3" cy="228.4" rx="2.5" ry="3.5" transform="rotate(20 803.3 228.4)" stroke-width="1.7" fill="#fff"/>
<ellipse cx="803.3" cy="228.4" rx="1" ry="1.4" transform="rotate(20 803.3 228.4)" stroke-width="1.1" fill="none"/>
<use href="#cn" x="667.3" y="216.2"/>
<use href="#cn" x="687.3" y="208.1"/>
<use href="#cn" x="741.3" y="231.9"/>
<use href="#cn" x="731.6" y="253.4"/>
<path d="M670.4 217.5C674.2 218.7 684.7 221.5 693.2 225.1C701.6 228.6 712.2 234.6 721 239C729.9 243.4 740.8 249.7 746.3 251.6C751.8 253.6 751.8 251.7 753.9 250.9C756 250 758.1 247.3 759 246.6" stroke-width="2.1"/>
<path d="M689.4 211.1C690 212.2 692.5 215.1 693.2 217.5C693.8 219.8 693.2 223.8 693.2 225.1" stroke-width="2.1"/>
<path d="M721 239C722.3 237.8 725.7 233.1 728.6 231.9C731.5 230.7 736.6 231.9 738.2 231.9" stroke-width="2.1"/>
<path d="M721 240.3C721.4 241.7 722.3 247 723.5 249.1C724.8 251.2 727.8 252.3 728.6 252.9" stroke-width="2.1"/>
<path d="M757 239C756 239.2 752.7 239.4 751.4 240.3C750.1 241.1 749.2 242.9 749.4 244.1C749.6 245.2 751.1 246.8 752.7 247.1C754.2 247.3 757.5 245.8 758.5 245.6" stroke-width="1.5"/>
<use href="#cn" x="771.6" y="258"/>
<path d="M600 152.8C602.4 151.9 609.6 149 614.5 147C619.3 145.1 624.4 142.7 628.9 141.2C633.5 139.8 637.9 139 642 138.4C646.1 137.7 650.2 137.6 653.5 137.6C656.9 137.6 659.1 137.4 662.2 138.4C665.4 139.3 668.7 141.5 672.4 143.4C676 145.3 680.3 148.4 683.9 149.9C687.6 151.5 690.7 152.5 694.1 152.8C697.4 153.1 700.8 152.3 704.2 151.8C707.6 151.3 712.6 150.2 714.3 149.9" stroke-width="2.1"/>
<path d="M662.2 138.4C662.7 137.6 663.9 135.1 665.1 134C666.3 132.9 667.8 131.8 669.5 131.5C671.2 131.3 673.3 131.9 675.3 132.6C677.2 133.2 679.1 135.1 681 135.5C683 135.8 685.9 134.9 686.8 134.7" stroke-width="2.1"/>
<path d="M639.8 148.5C640.2 148.1 640.6 146.8 642 146.3C643.3 145.8 645.1 145.1 647.8 145.6C650.4 146.1 653.8 147.4 657.9 149.2C662 151 667.5 154.1 672.4 156.4C677.2 158.7 683 161.3 686.8 163C690.7 164.6 693.3 165.2 695.5 166.6C697.7 167.9 697.8 170.1 699.9 170.9C701.9 171.8 706.5 171.5 707.8 171.6" stroke-width="2.1"/>
<path d="M714.3 149.9C713.1 148.8 709 146.4 707.1 143.4C705.2 140.4 703.8 135.7 702.7 131.8C701.7 128 700.6 122.8 700.6 120.3C700.5 117.7 702.1 117.2 702.5 116.6" stroke-width="2.1"/>
<path d="M715.8 100C715.9 100.5 715.9 100.5 716.5 102.9C717.1 105.3 718.7 110.1 719.4 114.5C720.1 118.8 721 124.4 720.8 128.9C720.7 133.5 719.8 138.5 718.7 142C717.6 145.5 714.7 147.9 714.3 149.9C714 152 716 152.9 716.5 154.3C717 155.6 717.1 157.3 717.2 157.9" stroke-width="2.1"/>
<path d="M725.9 107.2C726.9 108.4 730.2 111.6 731.7 114.5C733.1 117.4 733.7 121 734.6 124.6C735.4 128.2 735.4 133.3 736.8 136.2C738.1 139.1 741.6 141 742.5 142" stroke-width="2.1"/>
<path d="M734.6 115.9C735.9 116.3 740.9 116.9 742.5 118.1C744.2 119.3 744.1 120.9 744.7 123.2C745.3 125.4 745.1 129.9 746.2 131.8C747.3 133.8 750.4 134.2 751.2 134.7" stroke-width="2.1"/>
<path d="M640 187.1C643 185.9 648.9 183.3 657.9 180C666.9 176.7 683.2 170.9 694.1 167.3C704.9 163.7 714.6 160.9 723 158.6C731.5 156.3 738.5 155.1 744.7 153.5C750.9 152 756.8 150.5 760.1 149.2C763.3 147.9 763.4 146.4 764.1 145.8" stroke-width="1.5"/>
<path d="M308.1 259.9C306.4 261.8 300.9 266.8 298 271.3C295 275.7 291.6 283.9 290.4 286.5" stroke-width="1.5"/>
<use href="#b18" transform="translate(338.6 206.2) rotate(0) scale(1.1)"/>
<path d="M322 206.7L330.9 206.7"/>
<path d="M339 224.4L339 291.5"/>
<ellipse cx="338" cy="293.3" rx="4.1" ry="2.7" transform="rotate(0 338 293.3)" stroke-width="1.7" fill="#fff"/>
<ellipse cx="338" cy="293.3" rx="1.7" ry="1.1" transform="rotate(0 338 293.3)" stroke-width="1.1" fill="none"/>
<use href="#bt" transform="translate(275.7 196.6) rotate(20) scale(1)"/>
<path d="M275.7 205.4L275.7 218.1"/>
<path d="M478.4 248.5L478.4 277.6L507.6 266.7"/>
<ellipse cx="508.1" cy="266.2" rx="2.7" ry="3.7" transform="rotate(-20 508.1 266.2)" stroke-width="1.7" fill="#fff"/>
<ellipse cx="508.1" cy="266.2" rx="1.1" ry="1.5" transform="rotate(-20 508.1 266.2)" stroke-width="1.1" fill="none"/>
<path d="M324.6 281.4C325.2 280.3 326 276.5 328.4 275.1C330.7 273.6 334.3 272.7 338.5 272.5C342.7 272.4 348.2 273.8 353.7 274.3C359.2 274.9 365.9 276.5 371.4 275.8C376.9 275.1 381.9 272.4 386.6 270C391.2 267.6 395.4 264.1 399.2 261.1C403 258.2 407.7 253.8 409.4 252.3" stroke-width="2.1"/>
<path d="M324.6 281.4C324.3 282.7 322.2 286.7 323.3 289C324.3 291.3 327.5 293.6 330.9 295.3C334.3 297 339.3 298.9 343.5 299.1C347.8 299.3 353.2 297.8 356.2 296.6C359.2 295.4 360.4 292.8 361.3 292" stroke-width="2.1"/>
<use href="#cn" x="310.6" y="264.2"/>
<use href="#cn" x="305.6" y="273.3"/>
<use href="#cn" x="308.1" y="283.4"/>
<path d="M314.4 264.2C315.3 264.7 318.6 265.4 319.5 267.5C320.4 269.5 320.3 273.6 319.7 276.3C319.2 279.1 317.5 282.7 316.2 283.9C314.9 285.2 312.6 283.9 311.9 283.9" stroke-width="2.1"/>
<path d="M309.4 273.8 L318.2 274.3" stroke-width="2.1"/>
<path d="M316.2 283.9C316.8 285.2 318.1 291.9 319.5 291.5C320.9 291.1 323.7 283.1 324.6 281.4" stroke-width="2.1"/>
<use href="#cn" x="347.3" y="281.4"/>
<use href="#cn" x="363.8" y="290.3"/>
<use href="#pg" transform="translate(349.9 254.8) rotate(25) scale(0.9)"/>
<use href="#pg" transform="translate(364.3 249) rotate(25) scale(0.9)"/>
<path d="M351.1 258.6C351.6 260.3 352.8 266.1 353.7 268.7C354.5 271.4 355.8 273.4 356.2 274.3" stroke-width="2.1"/>
<path d="M366.3 253.5C366.8 255.7 367.6 262.7 368.9 266.2C370.1 269.7 373.1 273.4 373.9 274.8" stroke-width="2.1"/>
<use href="#cn" x="382.8" y="260.6"/>
<path d="M386.6 258.6C387.6 258.8 391.4 257.8 392.9 259.9C394.4 262 394.8 266.4 395.4 271.3C396.1 276.1 396.5 286 396.7 289" stroke-width="2.1"/>
<use href="#cn" x="398.7" y="293.5"/>
<use href="#cn" x="404.8" y="238.4"/>
<path d="M405.6 233.8C405.8 232.7 405.8 228.5 406.8 227C407.9 225.4 409.8 224.2 411.9 224.4C414 224.6 417.4 226.1 419.5 228.2C421.6 230.3 424.1 234.5 424.6 237.1C425 239.7 423.3 243.3 422 243.9C420.8 244.6 418.2 242.9 417 240.9C415.7 238.9 415.2 234.6 414.4 232C413.7 229.5 412.7 226.8 412.4 225.7" stroke-width="2.1"/>
<ellipse cx="413.2" cy="249.7" rx="5.6" ry="4.4" transform="rotate(-30 413.2 249.7)" stroke-width="1.5" fill="#fff"/>
<use href="#cn" x="417.5" y="261.6"/>
<use href="#cn" x="417.5" y="273.3"/>
<use href="#cn" x="417.5" y="285.2"/>
<path d="M405.6 253.5C405.6 258.2 404.9 275.1 405.6 281.4C406.2 287.7 406.2 289 409.4 291.5C412.5 294.1 419.1 295.1 424.6 296.6C430 298.1 437.6 300.4 442.3 300.4C446.9 300.4 450.3 298.5 452.4 296.6C454.5 294.7 454.5 290.3 454.9 289" stroke-width="2.1"/>
<path d="M405.6 260.6L413.9 261.1" stroke-width="2.1"/>
<use href="#pg" transform="translate(454.4 287.5) rotate(-80) scale(0.8)"/>
<path d="M422 245.9C422.7 247.2 425.2 249.3 425.8 253.5C426.5 257.8 426.5 267.9 425.8 271.3C425.1 274.6 422.2 273.4 421.5 273.8" stroke-width="2.1"/>
<path d="M422 285.2C423.3 285 427.7 286.2 429.6 283.9C431.5 281.6 432.6 275.1 433.4 271.3C434.3 267.5 433.2 263.9 434.7 261.1C436.2 258.4 437.6 257.3 442.3 254.8C446.9 252.3 456.2 248.4 462.5 245.9C468.9 243.5 477.5 241.3 480.5 240.4" stroke-width="2.1"/>
<use href="#cn" x="497.5" y="220.1"/>
<path d="M494.2 223.2C493.2 224.2 489.6 227.4 488.4 229.5C487.1 231.6 486.9 234.8 486.6 235.8" stroke-width="2.1"/>
<path d="M467.6 245.9C469.7 246.8 475.2 248.9 480.3 251C485.3 253.1 494.1 256.6 498 258.6C501.9 260.6 502.6 262.4 503.5 263.2" stroke-width="2.1"/>
<path d="M498 258.6C498.1 259.7 499.4 263.2 498.5 264.9C497.6 266.6 493.4 268.1 492.4 268.7" stroke-width="2.1"/>
<use href="#cn" x="489.9" y="269.2"/>
<path d="M492.9 243.4C493.5 242.8 495 240.5 496.7 239.6C498.4 238.8 501.5 237.7 503 238.4C504.6 239 506.5 241.9 506.1 243.4C505.7 244.9 502.5 246.8 500.5 247.2C498.5 247.6 495.4 246.6 494.2 245.9C492.9 245.3 493.1 243.8 492.9 243.4" stroke-width="2.1"/>
<path d="M503 238.4C504.7 239.4 509.2 243.3 513.2 244.7C517.2 246 524.8 246.2 527.1 246.5" stroke-width="2.1"/>
<use href="#cn" x="530.4" y="246.5"/>
<use href="#cn" x="530.4" y="233.8"/>
<use href="#cn" x="538.5" y="237.1"/>
<use href="#pg" transform="translate(520.8 273.8) rotate(-85) scale(1.1)"/>
<use href="#cn" x="508.1" y="306.7"/>
<use href="#cn" x="318.2" y="308"/>
<path d="M576.1 249.5L576.1 330"/>
<use href="#cn" x="530.9" y="234.3"/>
<use href="#cn" x="539.2" y="237.6"/>
<use href="#cn" x="548.1" y="241.9"/>
<use href="#cn" x="530.4" y="247"/>
<path d="M535.4 231.8C537.1 231.5 542.4 230 545.6 230C548.7 230 551.5 230.4 554.4 231.8C557.4 233.1 561.5 236.4 563.3 238.1C565.1 239.8 565 241.3 565.3 241.9" stroke-width="1.5"/>
<path d="M543 235.1C544.3 234.9 548.1 233.8 550.6 234.3C553.2 234.8 557 237.5 558.2 238.1" stroke-width="1.5"/>
<path d="M560.8 247L560.8 253.3"/>
<path d="M500 238.1C500.8 238.5 503.8 239.4 505.1 240.6C506.3 241.9 505.9 244.2 507.6 245.7C509.3 247.2 512.4 248.6 515.2 249.5C517.9 250.3 521.7 249.3 524.1 250.8C526.4 252.2 528.1 251.6 529.1 258.4C530.2 265.1 530.2 279 530.4 291.3C530.6 303.5 530.4 325 530.4 331.8" stroke-width="2.1"/>
<use href="#cn" x="630.4" y="209"/>
<use href="#cn" x="630.4" y="219.9"/>
<use href="#cn" x="630.4" y="230.5"/>
<use href="#cn" x="630.4" y="241.9"/>
<use href="#cn" x="611.4" y="244.4"/>
<use href="#cn" x="601.8" y="249.5"/>
<use href="#cn" x="586.8" y="255.3"/>
<use href="#cn" x="576.7" y="258.9"/>
<path d="M626.6 209C625.8 209.6 623 207.5 622 212.8C621.1 218.1 621.7 234.3 621 240.6C620.3 247 619.3 248.2 617.7 250.8C616.1 253.3 612.4 255 611.4 255.8" stroke-width="2.1"/>
<path d="M617.7 252L588.6 265.9L558.2 279.9L550.6 283.7" stroke-width="2.1"/>
<path d="M626.6 220.4L621.5 221.6" stroke-width="2.1"/>
<path d="M626.6 231L621.5 232.5" stroke-width="2.1"/>
<path d="M626.6 242.4L622 244.4" stroke-width="2.1"/>
<path d="M611.4 247.7L609.4 255.8" stroke-width="2.1"/>
<path d="M601.8 252.8L606.3 257.8" stroke-width="2.1"/>
<path d="M586.8 258.4L586.1 265.9" stroke-width="2.1"/>
<path d="M576.7 262.2L577.2 270.5" stroke-width="2.1"/>
<path d="M619 251.3L645.6 251.3"/>
<use href="#cn" x="545.1" y="282.4"/>
<use href="#cn" x="551.9" y="284.9"/>
<use href="#cn" x="545.6" y="292.5"/>
<path d="M560.8 281.1C560.8 282.3 563 286.3 561.3 288.2C559.6 290.1 552.4 291.8 550.6 292.5" stroke-width="2.1"/>
<use href="#cn" x="582.3" y="290.8"/>
<use href="#cn" x="607.6" y="280.6"/>
<path d="M586.1 289.2L604.3 282.2" stroke-width="2.1"/>
<path d="M612.7 280.6L625.3 280.6"/>
<use href="#cn" x="507.6" y="307"/>
<path d="M508.9 311.5C509.1 313.2 509.3 318.6 510.1 321.6C511 324.7 513.3 328.6 513.9 330" stroke-width="2.1"/>
<path d="M758.2 237.6C759.9 237.5 764.7 236.2 768.4 237.1C772 238 778.1 242.2 780 243.2" stroke-width="1.5"/>
<path d="M564.5 242C563 242.5 558.7 243.7 555.8 244.9C552.9 246.1 549.5 247.5 547.1 249.2C544.7 250.9 542.6 252.8 541.3 255C540 257.2 539.1 260.3 539.1 262.2C539.1 264.2 540.3 265.4 541.3 266.6C542.3 267.8 544.1 268.5 544.9 269.5C545.8 270.4 546.7 271.4 546.4 272.4C546 273.3 544.1 274.8 542.7 275.3C541.4 275.7 539.6 275.7 538.4 275.3C537.2 274.8 536.2 273.6 535.5 272.4C534.8 271.2 534.3 268.7 534.1 268" stroke-width="2.1"/>
<path d="M292.4 281.6C291 282.5 286.5 284.8 284.1 286.7C281.6 288.6 279.2 290.7 277.7 293C276.2 295.4 275.7 296.9 275.2 300.6C274.7 304.3 274.5 309.9 274.7 315.3C274.9 320.7 274.7 327.1 276.5 333C278.2 338.9 281.3 344.9 285.3 350.8C289.3 356.7 297.3 364.3 300.5 368.5C303.7 372.7 303.7 374.8 304.3 376.1" stroke-width="1.5"/>
<path d="M301.3 362.2L301.3 373.5" stroke-width="1.5"/>
<path d="M304.3 376.1C307.9 378 317.2 383.2 325.8 387.5C334.5 391.7 347.3 397.6 356.2 401.4C365.1 405.2 372.9 408.4 379 410.3C385.1 412.1 389.8 411.4 392.9 412.5C396 413.6 395.4 415.4 397.5 416.8C399.6 418.3 399.8 419.9 405.6 421.1C411.4 422.4 422.7 423.2 432.2 424.2C441.6 425.1 453.2 426.5 462.5 426.7C471.8 427 482.7 426.5 487.8 425.7C493 424.9 491.3 424.4 493.4 421.6C495.5 418.9 498.5 412.8 500.5 409C502.5 405.2 504.1 402.7 505.6 398.9C507 395.1 508.7 388.3 509.4 386.2" stroke-width="1.5"/>
<path d="M255.4 314.1L284.3 314.1"/>
<path d="M284.1 331.8C283.9 328.8 283.1 318.7 283.3 314.1C283.5 309.4 284.1 306.2 285.3 303.9C286.5 301.7 288.7 300.8 290.4 300.6C292.1 300.4 294.6 302.3 295.4 302.7" stroke-width="2.1"/>
<use href="#cn" x="294.9" y="310.3"/>
<use href="#cn" x="294.9" y="326.7"/>
<use href="#cn" x="294.9" y="338.1"/>
<path d="M283.3 322.9C283.8 323.5 285.2 326.1 286.6 326.7C288 327.3 290.8 326.7 291.6 326.7" stroke-width="2.1"/>
<path d="M284.1 331.8C284.5 332.6 285.3 335.8 286.6 336.8C287.8 337.9 290.8 337.9 291.6 338.1" stroke-width="2.1"/>
<path d="M285.3 305.2 L290.4 309" stroke-width="2.1"/>
<path d="M290.4 300.6C292.1 301.4 298.2 302.7 300.5 305.2C302.8 307.6 302.8 312.6 304.3 315.3C305.8 318.1 307.3 320.4 309.4 321.6C311.5 322.9 315.1 324 317 322.9C318.9 321.9 319.9 317.8 320.8 315.3C321.6 312.8 320.8 309.4 322 307.7C323.3 306 324.8 305 328.4 305.2C331.9 305.4 336.8 306.9 343.5 309C350.3 311.1 360 314.9 368.9 317.8C377.7 320.8 389.5 324.6 396.7 326.7C403.9 328.8 408.3 329 411.9 330.5C415.5 332 416.5 332.2 418.2 335.6C419.9 338.9 420.8 346.1 422 350.8C423.3 355.4 423.7 360 425.8 363.4C427.9 366.8 431.5 369.5 434.7 371C437.8 372.5 443.1 372.1 444.8 372.3" stroke-width="2.1"/>
<use href="#dc" transform="translate(318.2 309.7) rotate(0) scale(0.8)"/>
<path d="M314.4 290C314.4 291.3 313.8 295.5 314.4 297.6C315.1 299.7 317.6 301.8 318.2 302.7" stroke-width="2.1"/>
<path d="M317 322.9C317.4 325 318.6 330.9 319.5 335.6C320.3 340.2 321.8 346.5 322 350.8C322.2 355 319.7 357.9 320.8 360.9C321.8 363.8 324.6 366.2 328.4 368.5C332.2 370.8 338.9 373.1 343.5 374.8C348.2 376.5 353.2 376.7 356.2 378.6C359.2 380.5 360.4 384.9 361.3 386.2" stroke-width="2.1"/>
<use href="#cn" x="363" y="391.3"/>
<path d="M368.9 317.8C369.5 318.9 371.2 322.5 372.7 324.2C374.1 325.9 376.9 327.3 377.7 328" stroke-width="2.1"/>
<use href="#cn" x="381.5" y="328.7"/>
<use href="#cn" x="407.3" y="314.1"/>
<path d="M410.6 317.8C410.4 318.5 411.3 321 409.4 321.6C407.5 322.3 401.4 320.8 399.2 321.6C397.1 322.5 396.5 324.6 396.7 326.7C396.9 328.8 398.8 332.5 400.5 334.3C402.2 336.1 405.8 337 406.8 337.6" stroke-width="2.1"/>
<use href="#cn" x="410.6" y="337.6"/>
<use href="#cn" x="442.3" y="363.9"/>
<path d="M381 356.3L391.6 356.3"/>
<use href="#bt3" transform="translate(367.3 353) rotate(20) scale(1)"/>
<path d="M320.8 312.8L337.2 316.6L338.5 339.4L356.2 347"/>
<use href="#cn" x="453.7" y="338.6"/>
<use href="#cn" x="458.7" y="349.5"/>
<use href="#cn" x="482.8" y="348.7"/>
<use href="#cn" x="507.6" y="307.2"/>
<use href="#cn" x="495.4" y="322.4"/>
<use href="#cn" x="498" y="335.6"/>
<use href="#cn" x="467.6" y="405.2"/>
<use href="#dc" transform="translate(490.9 372.3) rotate(0) scale(0.8)"/>
<path d="M457.5 338.1C458.7 337.5 462.7 334.5 465.1 334.3C467.4 334.1 470.1 329.9 471.4 336.8C472.7 343.8 471.2 368.9 472.7 376.1C474.1 383.2 478.4 377.8 480.3 379.9C482.2 382 483.8 385.6 484.1 388.7C484.3 391.9 481.9 397.2 481.5 398.9" stroke-width="2.1"/>
<path d="M481.5 398.9L480.6 402.7L480.6 430"/>
<path d="M462.5 347L472.2 345.7" stroke-width="2.1"/>
<path d="M472.7 338.1C473.9 338.5 478.6 339.4 480.3 340.6C481.9 341.9 482.4 344.9 482.8 345.7" stroke-width="2.1"/>
<path d="M508.1 311.5C508.5 313.4 509.4 318.9 510.6 322.9C511.9 326.9 513.6 332.8 515.7 335.6C517.8 338.3 520.8 339.2 523.3 339.4C525.8 339.6 529.6 337.3 530.9 336.8" stroke-width="2.1"/>
<path d="M499.2 322.9L509.4 325.4" stroke-width="2.1"/>
<path d="M501.8 335.1L513.2 331.8" stroke-width="2.1"/>
<path d="M530.9 290L530.9 336.8"/>
<path d="M523.3 339.4C521 340.2 513 342.1 509.4 344.4C505.8 346.8 503.2 349.7 501.8 353.3C500.3 356.9 500.3 361.7 500.5 365.9C500.7 370.2 503.5 375.2 503 378.6C502.6 382 501.4 383.7 498 386.2C494.6 388.7 487.2 391.1 482.8 393.8C478.4 396.5 473.3 401.2 471.4 402.7" stroke-width="2.1"/>
<path d="M491.6 371L491.6 364.7L540 384.9"/>
<path d="M530.1 330C530.1 331.1 531 335.3 530.1 336.8C529.3 338.4 526.8 338.7 525.1 339.4C523.4 340 520.8 340.4 520 340.6" stroke-width="2.1"/>
<path d="M575.9 290L575.9 335.6"/>
<path d="M520 377.3L578.2 401.4L639 426.7L639 414.1"/>
<path d="M750.9 317.8L750.9 345.7"/>
<use href="#cn" x="566.8" y="313.5"/>
<use href="#cn" x="568.1" y="324.2"/>
<use href="#cn" x="604.8" y="360.1"/>
<use href="#cn" x="653.7" y="346.2"/>
<use href="#cn" x="693.4" y="329.2"/>
<use href="#cn" x="658.7" y="301.9"/>
<use href="#cn" x="545.3" y="292.5"/>
<use href="#cn" x="582.8" y="291.3"/>
<use href="#cn" transform="translate(571.9 346.2) rotate(0) scale(1.4)"/>
<use href="#pg" transform="translate(593.4 352) rotate(-10) scale(1.2)"/>
<use href="#pg" transform="translate(592.7 363.9) rotate(-10) scale(1.2)"/>
<ellipse cx="614.9" cy="351.3" rx="2.7" ry="3.9" transform="rotate(-15 614.9 351.3)" stroke-width="1.7" fill="#fff"/>
<ellipse cx="614.9" cy="351.3" rx="1.1" ry="1.6" transform="rotate(-15 614.9 351.3)" stroke-width="1.1" fill="none"/>
<path d="M558 302.7C558.6 303.9 561.4 306.9 561.8 310.3C562.2 313.6 559.9 319.5 560.5 322.9C561.1 326.3 563.5 328 565.6 330.5C567.7 333 569.8 335.8 573.2 338.1C576.5 340.4 580.8 342.5 585.8 344.4C590.9 346.3 599.2 348.4 603.5 349.5C607.8 350.5 610.3 350.5 611.6 350.8" stroke-width="2.1"/>
<path d="M558 302.7C560.1 302.9 567.5 301.8 570.6 303.9C573.8 306 574.9 310.9 577 315.3C579.1 319.7 580.5 325.9 583.3 330.5C586 335.1 590 340 593.4 343.2C596.8 346.3 601.9 348.4 603.5 349.5" stroke-width="2.1"/>
<path d="M546.6 301.4C547.2 301.8 549.7 302.7 550.4 303.9C551.1 305.2 551.5 307.7 550.9 309C550.3 310.3 547.7 311.7 546.6 311.5C545.4 311.3 544.1 309.4 544.1 307.7C544.1 306 546.2 302.4 546.6 301.4" stroke-width="2.1"/>
<path d="M545.3 311.5C544.1 312.6 539.4 314.7 537.7 317.8C536 321 536.2 327.3 535.2 330.5C534.1 333.7 532 335.8 531.4 336.8" stroke-width="2.1"/>
<path d="M607.3 314.6C606.3 314.9 602.2 315.4 601 316.6C599.9 317.8 599.7 320.6 600.5 321.6C601.4 322.7 604.3 323.1 606.1 322.9C607.8 322.7 610.2 321.4 611.1 320.4C612.1 319.3 612.3 317.6 611.6 316.6C611 315.6 608.1 314.9 607.3 314.6" stroke-width="2.1"/>
<path d="M612.4 314.1L641.5 330.5L674.4 348.2" stroke-width="1.5"/>
<path d="M652.9 330.5L728.1 362.7L709.9 371"/>
<path d="M607.3 322.9C606.3 323.8 607.1 325.4 601 328C594.9 330.5 575.7 336.4 570.6 338.1" stroke-width="2.1"/>
<path d="M641.5 328C644.1 326.9 652.1 323 656.7 321.6C661.4 320.3 667.3 320.2 669.4 319.9" stroke-width="1.5"/>
<path d="M652.9 330.5C655 329.7 662.7 326.1 665.6 325.4C668.4 324.8 669.2 326.5 669.9 326.7" stroke-width="1.5"/>
<ellipse cx="671.1" cy="323.2" rx="2.7" ry="3.9" transform="rotate(-15 671.1 323.2)" stroke-width="1.7" fill="#fff"/>
<ellipse cx="671.1" cy="323.2" rx="1.1" ry="1.6" transform="rotate(-15 671.1 323.2)" stroke-width="1.1" fill="none"/>
<path d="M642.8 329.2C642.6 330.7 640.5 335.6 641.5 338.1C642.6 340.6 647.8 343.4 649.1 344.4" stroke-width="2.1"/>
<path d="M689.6 331.8C689 332.6 686.5 334.7 685.8 336.8C685.2 338.9 685.8 343.2 685.8 344.4" stroke-width="2.1"/>
<path d="M663 303.9C664.1 304.6 667.3 307.8 669.4 308.2C671.5 308.6 674.4 307.6 675.7 306.5C677 305.3 676.8 302.2 677 301.4" stroke-width="2.1"/>
<path d="M680.8 293.8C679.9 293.7 677.2 292.5 675.7 293C674.2 293.6 672.1 295.7 671.9 297.1C671.7 298.5 673 300.9 674.4 301.4C675.9 301.9 679.7 300.3 680.8 300.1" stroke-width="2.1"/>
<path d="M679.5 292.5L687.1 295.1L740.3 321.6" stroke-width="1.5"/>
<use href="#b18" transform="translate(639 394.2) rotate(0) scale(1)"/>
<path d="M645.3 404.4L656.7 404.4"/>
<use href="#bt" transform="translate(693.4 376.8) rotate(159.5) scale(1)"/>
<path d="M701.8 380.6L701.8 406.5"/>
<path d="M595.9 367.2C595.8 368.5 594.7 372.8 595.2 374.8C595.7 376.8 597.4 378.4 599 379.1C600.6 379.8 592.7 383.9 604.8 379.1C617 374.3 648.1 360.6 671.9 350.3C695.7 339.9 732.9 323.4 747.8 317.1C762.8 310.8 758 314.4 761.5 312.4C765 310.5 766.9 307.9 768.7 305.2C770.5 302.5 771.1 299.8 772.3 296.2C773.5 292.5 774.7 287.7 775.9 283.5C777.2 279.3 778.1 274.8 779.6 270.8C781.1 266.9 782.9 263.7 785 260C787.1 256.3 789.5 252.5 792.2 248.8C794.9 245.2 798 241.6 801.3 238C804.6 234.4 807.2 231.5 812.1 227.1C817 222.7 825.8 215.1 830.5 211.7C835.3 208.3 837.9 207.6 840.7 206.6C843.4 205.7 846.1 206 847.2 205.9" stroke-width="1.5"/>
<path d="M580.5 395.9C582 395.4 586.9 393.9 589.4 392.9C591.9 391.9 587.7 393.3 595.4 390C603.2 386.7 622.9 378.7 635.9 373.2C649 367.6 664 360.9 673.9 356.7C683.8 352.6 687.2 351.6 695.4 348.2C703.7 344.8 714.4 339.9 723.3 336.2C732.2 332.5 742.3 328.6 748.6 326.1C754.9 323.5 757.9 322.6 761.3 321C764.6 319.4 766.8 318.2 768.9 316.6C771 315 772.4 313.6 773.9 311.5C775.4 309.4 776.5 306.7 777.7 303.9C779 301.2 780 300 781.5 295.1C783 290.2 784.7 280.3 786.8 274.5C788.9 268.6 791.3 264.4 794 260C796.7 255.6 800.1 251.6 803.1 247.9C806.1 244.2 810 241.1 812.1 238C814.3 234.8 814.7 231.9 816 229.1C817.4 226.3 820 223 820.4 221.1C820.8 219.2 819.8 218.4 818.5 217.5C817.2 216.6 814.2 215.7 812.4 215.8C810.6 215.8 808.9 216.7 807.7 217.9C806.4 219.1 805.4 222.2 804.9 223" stroke-width="1.5"/>
<path d="M798.6 254.2C800.2 252.4 804.4 246.6 808.5 243.4C812.6 240.2 818.1 237.4 823 235.3C827.8 233.2 833.2 231 837.4 230.7C841.7 230.4 845.6 231.6 848.3 233.5C851 235.3 852.6 238.1 853.7 241.6C854.8 245.1 855.1 250.3 854.8 254.2C854.5 258.2 853.3 260.9 851.9 265.1C850.5 269.3 847.4 277.2 846.5 279.6" stroke-width="1.5"/>
<path d="M795.8 247.9L804 251" stroke-width="1.5"/>
<path d="M808.5 252.8L817.5 254.8" stroke-width="1.5"/>
<path d="M820.3 256.4L833.8 258.2" stroke-width="1.5"/>
<path d="M815.7 242.5C817.5 243.6 823.3 246.6 826.6 248.8C829.9 251 834.1 254.6 835.6 255.7" stroke-width="1.5"/>
<path d="M841 254.2C842.3 253.3 846.6 250.8 848.3 248.8C849.9 246.9 850.5 243.6 851 242.5" stroke-width="1.5"/>
<use href="#cn" x="772" y="258.8"/>
<path d="M774.1 261.5C774.4 263 775.3 268.1 775.9 270.5C776.6 272.9 777.5 275 777.8 275.9" stroke-width="2.1"/>
<path d="M794 260C792.5 263 787.6 272.1 785 278.1C782.4 284.1 780 290.7 778.7 296.2C777.3 301.6 776.7 305.8 776.9 310.6C777 315.5 778.2 320.9 779.6 325.1C780.9 329.3 783 333 785 335.9C786.9 338.9 790.3 341.7 791.3 342.8" stroke-width="1.5"/>
<path d="M790.4 271.4C792.2 269.4 797 262.5 801.3 259.6C805.5 256.8 810.9 255 815.7 254.2C820.6 253.5 826.3 253.6 830.2 255.1C834.1 256.6 837 259.8 839.2 263.3C841.5 266.7 842.9 271.4 843.8 275.9C844.7 280.4 844.8 286.1 844.7 290.4C844.5 294.7 843.8 298.2 842.9 301.6C842 305 841.4 306.1 839.2 310.6C837.1 315.2 833.8 323.6 830.2 328.7C826.6 333.8 822.1 338.1 817.5 341.4C813 344.7 807.6 347.3 803.1 348.6C798.6 349.9 794.9 349.6 790.4 349C785.9 348.4 781.1 346.9 775.9 345C770.8 343.1 763.9 340 759.7 337.8C755.5 335.5 752.7 333.2 750.6 331.4C748.6 329.6 747.9 327.7 747.4 326.9" stroke-width="1.5"/>
<path d="M700 301.6L739.8 320.6" stroke-width="1.5"/>
<path d="M750.6 318.2L750.6 345"/>
<path d="M506.3 385.3C507.1 382.9 508.9 375.2 510.9 370.6C512.9 366.1 514.7 362.2 518.5 358C522.3 353.8 528.2 348.6 533.7 345.3C539.2 342 545.9 339.7 551.4 338.2C556.9 336.8 562.4 335.8 566.6 336.5C570.8 337.1 574 338.9 576.7 342.3C579.5 345.7 581.6 351.4 583 356.7C584.5 362.1 585.1 368.7 585.6 374.4C586 380.1 586.4 387.3 585.6 390.9C584.7 394.5 581.4 395.1 580.5 395.9" stroke-width="1.5"/>
<path d="M478 427.6C479 429.3 480.9 434.3 484.3 437.7C487.7 441.1 493 445 498.2 447.8C503.5 450.7 510 453.4 515.9 454.7C521.9 455.9 528.2 456.6 533.7 455.4C539.2 454.3 544.2 451.4 548.9 447.8C553.5 444.3 557.7 439.2 561.5 433.9C565.3 428.6 568.9 422.1 571.6 416.2C574.4 410.3 576.6 404.4 578 398.5C579.3 392.6 580 386 579.7 380.8C579.5 375.5 578.1 370.2 576.7 366.8C575.3 363.5 573.2 362.2 571.1 360.5C569 358.8 567.3 358.5 564.1 356.7C560.8 354.9 555.8 352 551.4 349.9C547 347.8 539.8 345 537.5 344.1" stroke-width="1.5"/>
<path d="M561.5 361.8C559 361.8 551 360.9 546.3 361.8C541.7 362.6 537.5 364.3 533.7 366.8C529.9 369.4 526.5 373 523.5 377C520.6 381 517.8 386 515.9 390.9C514.1 395.7 513 401 512.2 406.1C511.3 411.1 510.7 416.6 510.9 421.3C511.1 425.9 512.2 430.1 513.4 433.9C514.7 437.7 516.6 441.4 518.5 444.1C520.4 446.7 523.8 448.7 524.8 449.6" stroke-width="1.5"/>
<path d="M480.6 428.9L480.6 450.4"/>
<path d="M739.5 74.7C740.2 75.1 741.8 76.7 743.8 77.5C745.8 78.2 749.1 79.4 751.4 79.2C753.7 79.1 756.4 77.8 757.7 76.5C759.1 75.1 758 72.4 759.5 71.4C761 70.4 764.1 69.6 766.6 70.4C769 71.1 771.6 73.9 774.2 75.9C776.7 78 778 80.3 781.8 82.5C785.6 84.7 791.9 87 797 89.1C802 91.2 807 92.3 812.2 95.2C817.3 98.1 823.9 103.3 828 106.3C832.1 109.4 833.6 110.7 836.7 113.5C839.8 116.4 843.9 120.3 846.8 123.7C849.7 127.1 852.1 131.1 854.1 133.8C856 136.5 858.7 140.4 858.4 140C858.1 139.7 851.8 130.8 852.2 131.6C852.6 132.3 858.6 140.7 860.9 144.6C863.2 148.5 864.9 152.1 866 154.7C867.1 157.4 867.7 159.1 867.4 160.5C867.2 161.9 865.9 162.8 864.5 163.1C863.2 163.4 860.3 162.4 859.5 162.3" stroke-width="2.1"/>
<path d="M811.7 129.4C812.9 128.7 816.3 126.1 818.9 125.1C821.6 124 825 123.1 827.6 123.2C830.3 123.3 832.7 124.4 834.9 125.8C837 127.2 839.1 129.4 840.7 131.6C842.2 133.7 843.6 133.5 844.3 138.8C844.9 144.1 845.1 157.9 844.7 163.4C844.3 169 843.5 169.7 842.1 172.1C840.7 174.5 839 176.1 836.3 177.9C833.7 179.7 830.3 181.1 826.2 183C822.1 184.8 816.5 186.7 811.7 188.7C806.9 190.8 802.4 192.9 797.2 195.3C792 197.6 784.5 201.8 780.5 202.8C776.5 203.7 775.3 202.6 773.4 201C771.5 199.5 771.1 195.7 769.1 193.4C767.1 191.1 764.1 189.2 761.5 187.1C759 185 755.8 183.7 753.9 180.8C752 177.8 750.8 171.3 750.1 169.4" stroke-width="2.1"/>
<path d="M859.5 162.3C859.6 161.2 860.5 158 860.3 156.2C860.2 154.3 859.6 152.4 858.7 151.1C857.9 149.8 855.7 148.7 855.1 148.2" stroke-width="2.1"/>
<path d="M855.1 156.9C855.6 157.1 857.2 157.4 858 157.9C858.8 158.4 859.5 159.5 859.8 159.8" stroke-width="2.1"/>
<use href="#cn" x="868.9" y="173.5"/>
<path d="M865.3 177.2C865 178 863.3 180.2 863.8 182.2C864.3 184.3 867.1 187.1 868.1 189.5C869.2 191.9 870.1 194.9 870.3 196.7C870.6 198.5 869.7 199.5 869.6 200" stroke-width="2.1"/>
<path d="M832.7 182.2L847.9 188L859.5 193.8L865.3 200" stroke-width="1.5"/>
<use href="#cn" x="840.4" y="192.1"/>
<path d="M845 191.6C846 192.2 849.6 193.9 850.8 195.3C852 196.7 852 199.2 852.2 200" stroke-width="2.1"/>
<path d="M881.2 202.7C882 204 884.9 207.6 886.2 210.3C887.6 213 888.6 215.8 889.1 218.9C889.7 222.1 889.9 225.5 889.6 229.1C889.2 232.7 888.4 236.8 887 240.7C885.6 244.5 883.6 248.6 881.2 252.2C878.8 255.8 875.6 259.4 872.5 262.4C869.4 265.3 866 267.9 862.4 270C858.7 272.2 852.7 274.5 850.8 275.4" stroke-width="1.5"/>
<path d="M881.2 202.3C880.8 203.6 879.7 207.8 879 210.3C878.3 212.7 877.2 215.7 876.8 216.8" stroke-width="1.5"/>
<path d="M870.3 184.2C870.4 186.4 871.2 193.4 871 197.2C870.9 201.1 870 203.7 869.6 207.4C869.2 211 869 214.6 868.9 218.9C868.8 223.3 868.9 231 868.9 233.4" stroke-width="1.5"/>
<path d="M853.7 190L865.3 195.8L862.4 200.9L854.4 207.4L856.6 213.2L864.5 218.9" stroke-width="1.5"/>
<path d="M853.7 221.1C854.3 222 856.3 224 857.3 226.2C858.3 228.4 858.4 232.3 859.5 234.1C860.5 235.9 862.2 236.9 863.8 237C865.4 237.2 868 235.2 868.9 234.9" stroke-width="1.5"/>
<path d="M868.9 234.9L876.8 229.1L876.8 226.9L871.8 222.6" stroke-width="1.5"/>
<use href="#cn" x="839.9" y="192.6"/>
<use href="#cn" x="832.3" y="200.4"/>
<path d="M844.3 193.2C845.1 193.5 848.2 193.9 849.3 195.1C850.4 196.2 850.9 198.6 850.8 200.1C850.7 201.7 849.1 203.3 848.6 204.5C848.1 205.7 847.5 205.4 847.9 207.4C848.2 209.3 850.2 211.7 850.8 216C851.4 220.4 851.4 230.5 851.5 233.4" stroke-width="2.1"/>
<path d="M836.3 200.4C837.2 200.3 840 199.1 841.4 199.4C842.8 199.7 844.1 201.2 844.7 202.3C845.3 203.4 844.7 205.3 844.7 205.9" stroke-width="2.1"/>
<ellipse cx="803" cy="228.4" rx="2.9" ry="3.7" transform="rotate(15 803 228.4)" stroke-width="1.7" fill="#fff"/>
<ellipse cx="803" cy="228.4" rx="1.2" ry="1.5" transform="rotate(15 803 228.4)" stroke-width="1.1" fill="none"/>
<path d="M790 221.8L800.9 226.9"/>
<path d="M837 211.7L847.2 216.8"/>
<path d="M725.2 107.7C726.1 108.5 728.4 111.3 730.1 112.5C731.8 113.8 731.4 113.3 735.6 115.2C739.7 117.2 748.6 121.5 755.1 124.5C761.6 127.5 770.1 131 774.6 133.1C779.1 135.3 780.6 136.3 782.2 137.5C783.8 138.6 784 139.6 784.4 140" stroke-width="1.9"/>
<path d="M723.4 164.1L748 174.3"/>
<path d="M752.4 175.7L829.1 208.1"/>
<path d="M817.1 405.3C817.3 404.3 816.3 405.3 818.6 399.4C820.8 393.5 825.5 379.6 830.4 369.7C835.4 359.8 843.3 347.2 848.2 340.1C853.2 332.9 856.6 329.9 860.1 326.7C863.5 323.5 867.5 321.8 869 320.8" stroke-width="1.5"/>
<path d="M869 320.8L904.6 306L987.6 273.3" stroke-width="1.5"/>
<path d="M987.6 273.3C988.3 273.3 990.6 272.6 992 273C993.5 273.5 995.7 275.8 996.5 276.3" stroke-width="1.5"/>
<path d="M996.5 276.3C1002.7 285 1026.4 317.6 1033.6 328.2C1040.7 338.8 1037.8 334.6 1039.5 340.1C1041.2 345.5 1043.1 354.4 1043.9 360.8C1044.8 367.3 1045 373.7 1044.5 378.6C1044 383.6 1041.6 388.5 1041 390.5" stroke-width="1.5"/>
<path d="M821.5 418.7L922.3 378.6" stroke-width="1.5"/>
<path d="M928.3 374.2L1033.6 328.8" stroke-width="1.5"/>
<path d="M904.6 306C905.8 313.1 909.9 336.6 912 349C914 361.3 916.2 374.9 917 380.1" stroke-width="1.5"/>
<path d="M909 304.5C910.7 312.9 916.7 342.8 919.4 354.9C922.1 367 922.8 370.2 925.3 377.1C927.8 384.1 932 388.6 934.2 396.4C936.4 404.2 937.9 419.4 938.7 424" stroke-width="1.5"/>
<path d="M913.5 303.9C915.4 311.4 922.2 337.3 925.3 349C928.4 360.7 930.8 370 931.8 374.2" stroke-width="1.5"/>
<path d="M977.2 277.8C979.9 283.2 988.6 300 993.5 310.4C998.5 320.8 1004.6 335.1 1006.9 340.1" stroke-width="1.5"/>
<path d="M817.1 405.3C817.6 407.8 819 417 820 420.1C821 423.3 822.5 423.4 823 424" stroke-width="1.5"/>
<use href="#rc" transform="translate(828.3 406.2) rotate(0) scale(1)"/>
<use href="#cn" transform="translate(868.1 414.8) rotate(0) scale(1)"/>
<use href="#cn" transform="translate(854.7 420.1) rotate(0) scale(1)"/>
<use href="#rc" transform="translate(965.3 379.2) rotate(0) scale(1)"/>
<use href="#pg" transform="translate(990 391.1) rotate(-20) scale(1)"/>
<use href="#pg" transform="translate(1033.6 364.4) rotate(-20) scale(1.1)"/>
<path d="M966.2 384C966.6 385.5 966.7 390.3 968.3 393.5C969.9 396.6 974.5 397.9 975.7 402.9C977 408 975.7 420.5 975.7 424" stroke-width="2.1"/>
<path d="M986.1 393.5C984.9 394.4 980.4 397.7 978.7 399.4C977 401.1 976.2 403.1 975.7 403.8" stroke-width="2.1"/>
<path d="M1029.1 368.2C1027.1 369.2 1020.5 370.5 1017.2 374.2C1014 377.9 1012.3 384.8 1009.8 390.5C1007.4 396.2 1006.1 403.3 1002.4 408.3C998.7 413.2 991.1 417.5 987.6 420.1C984.1 422.8 982.6 423.4 981.7 424" stroke-width="2.1"/>
<path d="M820 418.7C820.3 423.6 822 438.4 821.5 448.3C821 458.2 818.1 468.1 817.1 478C816.1 487.9 815.3 500.7 815.6 507.6C815.8 514.5 816.1 516.4 818.6 519.5C821 522.6 828.4 524.9 830.4 526" stroke-width="1.5"/>
<path d="M820 420.1C821.3 423.8 825.5 433.7 827.4 442.4C829.4 451 831 461.2 831.9 472C832.8 482.9 832.8 497.2 832.8 507.6C832.8 518 832 529.9 831.9 534.3" stroke-width="1.5"/>
<path d="M831.9 534.3L931.2 492.8L999.5 460.2" stroke-width="1.5"/>
<path d="M999.5 460.2C1000.4 457.7 1002.9 452.3 1005.4 445.3C1007.9 438.4 1010.8 426.1 1014.3 418.7C1017.7 411.2 1022.1 406.1 1026.1 400.9C1030.2 395.7 1036.5 389.7 1038.6 387.5" stroke-width="1.5"/>
<path d="M938.7 412.7C938.9 418.7 940.6 437.4 940.1 448.3C939.6 459.2 937.2 470.6 935.7 478C934.2 485.4 932 490.3 931.2 492.8" stroke-width="1.5"/>
<path d="M808.2 424.6L833.4 424.6"/>
<path d="M987.6 420.1L1032.1 420.1"/>
<path d="M830.4 418.7C831.4 419.9 832.9 423.8 836.3 426.1C839.8 428.3 846.7 429.8 851.2 432C855.6 434.2 859.6 436.2 863 439.4C866.5 442.6 870 446.8 871.9 451.3C873.9 455.7 874.5 461.2 874.9 466.1C875.3 471 875.8 476.7 874.3 480.9C872.8 485.1 869.9 488.8 866 491.3C862.1 493.8 855.6 495.5 851.2 495.8C846.7 496 842.5 493.8 839.3 492.8C836.1 491.8 833.1 490.3 831.9 489.8" stroke-width="2.1"/>
<path d="M874.9 466.1C875 462.2 875.6 449.3 875.5 442.4C875.4 435.5 875.1 428.6 874.3 424.6C873.5 420.5 871.1 419.2 870.5 418.1" stroke-width="2.1"/>
<path d="M858.6 421.6C860.3 422.4 866.2 424.6 869 426.1C871.7 427.6 873.9 429.8 874.9 430.5" stroke-width="2.1"/>
<use href="#rc" transform="translate(851.2 449.8) rotate(0) scale(1)"/>
<path d="M856.5 449.8C858.1 449.8 863.4 449.3 866 449.8C868.6 450.3 870.9 452.3 871.9 452.8" stroke-width="2.1"/>
<path d="M874.3 480.9C877.4 479.5 887.7 474.5 892.7 472C897.7 469.6 901.8 468.6 904.6 466.1C907.3 463.6 908 460.2 909 457.2C910 454.2 910.2 449.8 910.5 448.3" stroke-width="2.1"/>
<use href="#rc" transform="translate(901 446.8) rotate(0) scale(1)"/>
<use href="#rc" transform="translate(917 440) rotate(0) scale(1)"/>
<path d="M917 444.8C916.7 446.3 916 451.2 914.9 454.2C913.8 457.3 912.2 461.1 910.5 463.1C908.8 465.2 905.5 466.1 904.6 466.7" stroke-width="2.1"/>
<path d="M904.6 448.3 L909 452.8" stroke-width="2.1"/>
<path d="M874.3 480.9C875.6 481.4 879.5 483.5 882.3 483.9C885.1 484.3 889.7 483.4 891.2 483.3" stroke-width="2.1"/>
<use href="#rc" transform="translate(895.7 481.8) rotate(0) scale(0.8)"/>
<path d="M904.6 466.7 L907.5 472" stroke-width="2.1"/>
<use href="#rc" transform="translate(908.1 475.9) rotate(0) scale(0.9)"/>
<use href="#pg" transform="translate(916.4 469.1) rotate(-85) scale(1.1)"/>
<path d="M919.4 467.6C920.4 466.6 924.1 463.4 925.3 461.7C926.6 459.9 926.6 458 926.8 457.2" stroke-width="2.1"/>
<ellipse cx="930.4" cy="454.8" rx="3.6" ry="6.6" transform="rotate(10 930.4 454.8)" stroke-width="1.3" fill="#fff"/>
<ellipse cx="823.9" cy="491.3" rx="4" ry="6" transform="rotate(10 823.9 491.3)" stroke-width="1.3" fill="#fff"/>
<path d="M821.5 492.2C820 492.4 815.3 493.5 812.6 493.4C809.9 493.2 806.4 491.7 805.2 491.3" stroke-width="2.1"/>
<use href="#pg" transform="translate(800.2 489.8) rotate(-85) scale(1.2)"/>
<path d="M934.2 454.8C935.2 454.7 937.4 453.7 940.1 454.2C942.9 454.7 947.1 457.8 950.5 457.8C954 457.8 957.7 456.8 960.9 454.2C964.1 451.7 967.3 445.8 969.8 442.4C972.3 438.9 972.8 437.2 975.7 433.5C978.7 429.8 983.6 423.8 987.6 420.1C991.5 416.4 996 414.9 999.5 411.2C1002.9 407.5 1006.4 401.6 1008.4 397.9C1010.3 394.2 1010.8 390.5 1011.3 389" stroke-width="2.1"/>
<path d="M975.7 433.5C975.6 428.5 976.1 410.3 975.1 403.8C974.1 397.4 971.2 397.4 969.8 394.9C968.4 392.5 967.3 390 966.8 389" stroke-width="2.1"/>
<path d="M975.1 402.3C976.7 401.1 982.3 396.7 984.6 394.9C986.9 393.2 988.3 392.5 989.1 392" stroke-width="2.1"/>
<use href="#rc" transform="translate(960.3 428.1) rotate(0) scale(1)"/>
<path d="M955.6 430.5C954.6 431.5 950.5 434 949.6 436.4C948.8 438.9 949.1 442.9 950.5 445.3C951.9 447.8 955.7 450 957.9 451.3C960.2 452.5 962.9 452.5 963.9 452.8" stroke-width="2.1"/>
</svg>
</body></html>
